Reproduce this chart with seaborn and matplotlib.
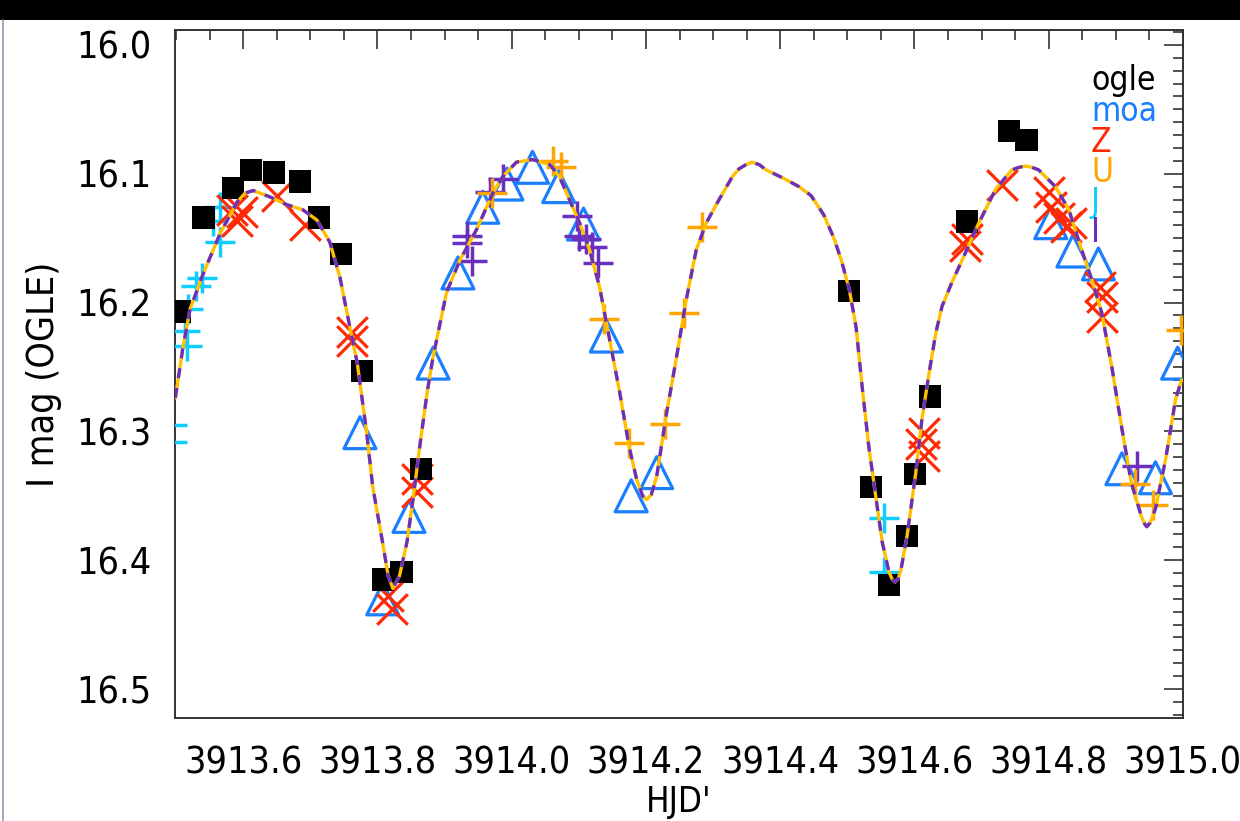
import os
import numpy as np
import pandas as pd
import seaborn as sns
import matplotlib
matplotlib.use("Agg")
import matplotlib.pyplot as plt
from matplotlib import font_manager as fm
from matplotlib.patches import Rectangle
from matplotlib.lines import Line2D
from matplotlib.ticker import MultipleLocator

# ---------------- data ----------------
ogle_t = [3913.506, 3913.541, 3913.585, 3913.612, 3913.646, 3913.685, 3913.713,
          3913.746, 3913.777, 3913.808, 3913.836, 3913.865, 3914.503, 3914.535,
          3914.562, 3914.589, 3914.601, 3914.623, 3914.678, 3914.741, 3914.767]
ogle_m = [16.207, 16.134, 16.111, 16.097, 16.099, 16.106, 16.134,
          16.162, 16.253, 16.415, 16.409, 16.329, 16.191, 16.343,
          16.419, 16.381, 16.333, 16.273, 16.137, 16.067, 16.074]

moa_t = [3913.774, 3913.808, 3913.847, 3913.883, 3913.920, 3913.957, 3913.993,
         3914.031, 3914.070, 3914.107, 3914.141, 3914.178, 3914.216, 3914.803,
         3914.836, 3914.874, 3914.909, 3914.959, 3914.992]
moa_m = [16.301, 16.430, 16.366, 16.247, 16.177, 16.126, 16.108,
         16.095, 16.110, 16.139, 16.226, 16.350, 16.332, 16.138,
         16.160, 16.170, 16.329, 16.336, 16.247]

z_t = [3913.584, 3913.599, 3913.591, 3913.651, 3913.692, 3913.762, 3913.762,
       3913.816, 3913.822, 3913.859, 3913.859, 3914.614, 3914.610, 3914.614,
       3914.678, 3914.675, 3914.730, 3914.800, 3914.804, 3914.815, 3914.825,
       3914.833, 3914.877, 3914.879, 3914.879]
z_m = [16.128, 16.130, 16.137, 16.117, 16.140, 16.223, 16.230,
       16.428, 16.438, 16.337, 16.347, 16.301, 16.310, 16.319,
       16.151, 16.156, 16.109, 16.114, 16.126, 16.134, 16.141,
       16.138, 16.188, 16.196, 16.211]

u_t = [3913.970, 3914.061, 3914.073, 3914.138, 3914.175, 3914.228, 3914.257,
       3914.283, 3914.929, 3914.956, 3914.997]
u_m = [16.115, 16.090, 16.095, 16.213, 16.309, 16.294, 16.208,
       16.141, 16.341, 16.357, 16.221]

j_t = [3913.566, 3913.555, 3913.566, 3913.539, 3913.530, 3913.518, 3913.514,
       3913.517, 3913.494, 3913.494, 3914.555, 3914.555]
j_m = [16.126, 16.137, 16.153, 16.181, 16.187, 16.205, 16.222,
       16.234, 16.295, 16.308, 16.367, 16.409]

i_t = [3913.933, 3913.934, 3913.941, 3913.967, 3913.987, 3914.097, 3914.101,
       3914.110, 3914.119, 3914.128, 3914.931]
i_m = [16.148, 16.154, 16.168, 16.114, 16.104, 16.133, 16.148,
       16.151, 16.157, 16.169, 16.327]

model_t = [3913.499, 3913.510, 3913.521, 3913.541, 3913.566, 3913.591, 3913.603,
           3913.615, 3913.640, 3913.665, 3913.689, 3913.710, 3913.729, 3913.744,
           3913.759, 3913.770, 3913.784, 3913.793, 3913.807, 3913.816, 3913.823,
           3913.833, 3913.844, 3913.853, 3913.863, 3913.874, 3913.883, 3913.903,
           3913.923, 3913.948, 3913.972, 3913.987, 3914.007, 3914.031, 3914.057,
           3914.071, 3914.086, 3914.101, 3914.116, 3914.131, 3914.146, 3914.161,
           3914.175, 3914.186, 3914.195, 3914.201, 3914.208, 3914.216, 3914.230,
           3914.245, 3914.260, 3914.275, 3914.290, 3914.309, 3914.329, 3914.339,
           3914.349, 3914.358, 3914.369, 3914.379, 3914.403, 3914.428, 3914.446,
           3914.465, 3914.480, 3914.491, 3914.503, 3914.513, 3914.522, 3914.532,
           3914.543, 3914.552, 3914.562, 3914.567, 3914.571, 3914.576, 3914.580,
           3914.589, 3914.602, 3914.611, 3914.622, 3914.632, 3914.641, 3914.656,
           3914.671, 3914.696, 3914.721, 3914.745, 3914.756, 3914.766, 3914.775,
           3914.785, 3914.810, 3914.830, 3914.849, 3914.864, 3914.879, 3914.894,
           3914.909, 3914.923, 3914.938, 3914.943, 3914.946, 3914.951, 3914.959,
           3914.974, 3914.989, 3914.998]
model_m = [16.274, 16.236, 16.205, 16.177, 16.146, 16.122, 16.115,
           16.113, 16.118, 16.124, 16.128, 16.136, 16.153, 16.180,
           16.219, 16.247, 16.301, 16.343, 16.384, 16.412, 16.422,
           16.412, 16.386, 16.353, 16.312, 16.270, 16.242, 16.192,
           16.167, 16.143, 16.115, 16.102, 16.091, 16.089, 16.093,
           16.102, 16.120, 16.138, 16.159, 16.188, 16.229, 16.270,
           16.312, 16.337, 16.350, 16.353, 16.349, 16.335, 16.288,
           16.244, 16.198, 16.159, 16.138, 16.120, 16.102, 16.096,
           16.093, 16.091, 16.093, 16.097, 16.103, 16.110, 16.117,
           16.132, 16.150, 16.167, 16.190, 16.219, 16.265, 16.312,
           16.353, 16.386, 16.409, 16.415, 16.417, 16.414, 16.407,
           16.381, 16.332, 16.291, 16.254, 16.223, 16.203, 16.184,
           16.167, 16.138, 16.112, 16.097, 16.095, 16.094, 16.095,
           16.097, 16.110, 16.128, 16.159, 16.182, 16.208, 16.250,
           16.298, 16.340, 16.366, 16.372, 16.374, 16.371, 16.360,
           16.322, 16.275, 16.260]

xticks = [3913.6, 3913.8, 3914.0, 3914.2, 3914.4, 3914.6, 3914.8, 3915.0]
xtick_labels = ["3913.6", "3913.8", "3914.0", "3914.2", "3914.4", "3914.6", "3914.8", "3915.0"]
yticks = [16.0, 16.1, 16.2, 16.3, 16.4, 16.5]
ytick_labels = ["16.0", "16.1", "16.2", "16.3", "16.4", "16.5"]
legend_names = ["ogle", "moa", "Z", "U", "J", "I"]
legend_colors = ["#000000", "#1A7FFF", "#FF2A05", "#FFA500", "#10CFFF", "#6A2FBF"]

# ---------------- style ----------------
sns.set_theme(style="white")
plt.rcParams["font.family"] = ["DejaVu Sans"]


def pick_font():
    for f in fm.fontManager.ttflist:
        b = os.path.basename(f.fname)
        if b.startswith("DejaVuSansCondensed") and "Bold" not in b and "Oblique" not in b:
            return f.fname
    for f in fm.fontManager.ttflist:
        b = os.path.basename(f.fname)
        if "Narrow" in b and "Bold" not in b and "Italic" not in b:
            return f.fname
    return None


fpath = pick_font()
if fpath:
    fp = fm.FontProperties(fname=fpath)
    base = 27
else:
    fp = fm.FontProperties(family="DejaVu Sans")
    base = 23

fig = plt.figure(figsize=(12.4, 8.21), dpi=100)
ax = fig.add_axes([175 / 1240, 1 - 718 / 821, 1008 / 1240, 688 / 821])

c_ogle, c_moa, c_z, c_u, c_j, c_i = legend_colors

sns.scatterplot(x=moa_t, y=moa_m, ax=ax, marker="^", s=23 ** 2, facecolor="none",
                edgecolor=c_moa, color=c_moa, linewidth=2.3, zorder=3)
sns.scatterplot(x=i_t, y=i_m, ax=ax, marker="+", s=21 ** 2, color=c_i, linewidth=2.5, zorder=3)
sns.scatterplot(x=u_t, y=u_m, ax=ax, marker="+", s=21 ** 2, color=c_u, linewidth=2.5, zorder=3)
sns.scatterplot(x=j_t, y=j_m, ax=ax, marker="+", s=21 ** 2, color=c_j, linewidth=2.5, zorder=3)
sns.scatterplot(x=z_t, y=z_m, ax=ax, marker="x", s=22 ** 2, color=c_z, linewidth=2.3, zorder=3)
sns.scatterplot(x=ogle_t, y=ogle_m, ax=ax, marker="s", s=16 ** 2, color=c_ogle,
                edgecolor="none", linewidth=0, zorder=4)

sns.lineplot(x=model_t, y=model_m, ax=ax, sort=False, estimator=None,
             color="#FFC000", linewidth=2.4, zorder=5)
sns.lineplot(x=model_t, y=model_m, ax=ax, sort=False, estimator=None,
             color="#6A2FBF", linewidth=2.4, dashes=False, zorder=6)
ax.lines[-1].set_dashes([3.0, 3.0])

ax.set_xlim(3913.4985, 3915.0)
ax.set_ylim(16.5225, 15.9884)

ax.set_xticks(xticks, labels=xtick_labels, fontproperties=fp, fontsize=base)
ax.set_yticks(yticks, labels=ytick_labels, fontproperties=fp, fontsize=base)
ax.xaxis.set_minor_locator(MultipleLocator(0.05))
ax.yaxis.set_minor_locator(MultipleLocator(0.01))
ax.tick_params(which="both", direction="in", top=True, right=True, color="#333333")
ax.tick_params(which="major", length=14, width=1.2)
ax.tick_params(which="minor", length=7, width=1.2)
ax.tick_params(axis="x", which="major", pad=20, labelcolor="black")
ax.tick_params(axis="y", which="major", pad=17, labelcolor="black")

for sp in ax.spines.values():
    sp.set_color("#333333")
    sp.set_linewidth(1.4)

ax.set_xlabel("HJD'", fontproperties=fp, fontsize=base - 2, color="black")
ax.set_ylabel("I mag (OGLE)", fontproperties=fp, fontsize=base, color="black")
ax.xaxis.set_label_coords(0.5, -0.098)
ax.yaxis.set_label_coords(-0.112, 0.5)

leg_y = [0.9128, 0.8677, 0.8227, 0.7791, 0.7355, 0.6919]
for name, col, yy in zip(legend_names, legend_colors, leg_y):
    ax.text(0.9087, yy, name, transform=ax.transAxes, color=col, fontproperties=fp,
            fontsize=24, ha="left", va="baseline", zorder=7)

# frame decorations of the original screenshot
fig.patches.append(Rectangle((0, 1 - 20 / 821), 1, 20 / 821, transform=fig.transFigure,
                             facecolor="black", edgecolor="none", zorder=0))
fig.lines.append(Line2D([2.5 / 1240, 2.5 / 1240], [0, 1 - 20 / 821], transform=fig.transFigure,
                        color="#9a9ab0", linewidth=1.2))

fig.savefig("out.png", dpi=100)
